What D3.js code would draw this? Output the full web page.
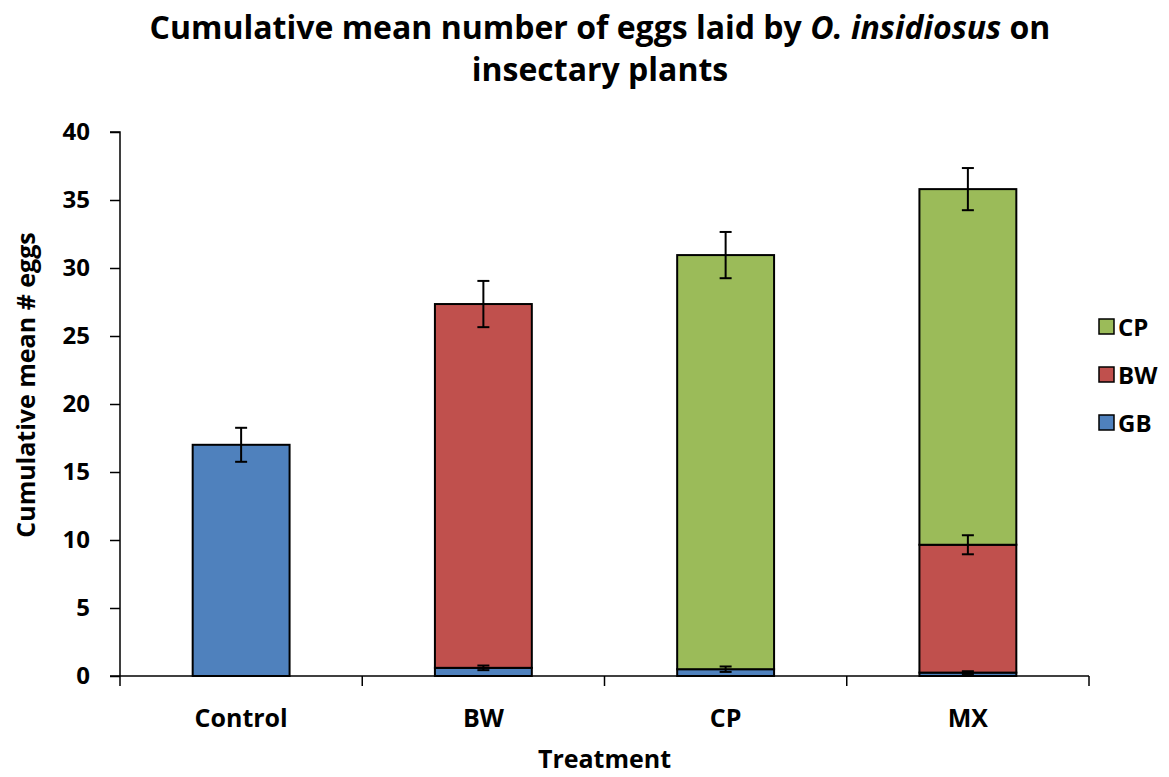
<!DOCTYPE html>
<html>
<head>
<meta charset="utf-8">
<script src="https://cdn.jsdelivr.net/npm/d3@7"></script>
<style>
  html, body { margin: 0; padding: 0; background: #fff; }
  svg { display: block; }
  text { font-family: "Open Sans", "Liberation Sans", sans-serif; font-weight: bold; fill: #000; }
</style>
</head>
<body>
<svg id="chart" width="1169" height="777"></svg>
<script>
// Treatments along the x axis
const treatments = ["Control", "BW", "CP", "MX"];
// Plant species stacked in each bar (bottom to top)
const species = ["GB", "BW", "CP"];
const speciesColors = ["#4F81BD", "#C0504D", "#9BBB59"];
// Mean eggs per species, per treatment
const gbMeans = [17.0, 0.6, 0.5, 0.25];
const bwMeans = [0, 26.75, 0, 9.4];
const cpMeans = [0, 0, 30.45, 26.15];
// Standard errors per species, per treatment (null = no segment)
const gbErr = [1.25, 0.17, 0.2, 0.1];
const bwErr = [null, 1.7, null, 0.7];
const cpErr = [null, null, 1.7, 1.55];
const yTicks = [0, 5, 10, 15, 20, 25, 30, 35, 40];

const svg = d3.select("#chart");
const plotLeft = 120, plotRight = 1089;
const plotTop = 132, plotBottom = 676;

const x = d3.scaleBand().domain(treatments).range([plotLeft, plotRight]).paddingInner(0.6).paddingOuter(0.3);
const xBoundaries = d3.scaleBand().domain(treatments).range([plotLeft, plotRight]).padding(0);
const y = d3.scaleLinear().domain([0, 40]).range([plotBottom, plotTop]);

const table = treatments.map((t, i) => ({ treatment: t, GB: gbMeans[i], BW: bwMeans[i], CP: cpMeans[i] }));
const errs = { GB: gbErr, BW: bwErr, CP: cpErr };
const stacked = d3.stack().keys(species)(table);

// Bars
const layers = svg.append("g").selectAll("g").data(stacked).join("g")
  .attr("fill", (d, i) => speciesColors[i]);
layers.selectAll("rect")
  .data(d => d.map((v, i) => ({ v, i })).filter(o => o.v[1] - o.v[0] > 0))
  .join("rect")
  .attr("x", o => x(treatments[o.i]))
  .attr("width", x.bandwidth())
  .attr("y", o => y(o.v[1]))
  .attr("height", o => y(o.v[0]) - y(o.v[1]))
  .attr("stroke", "#000")
  .attr("stroke-width", 2);

// Error bars at the top of each segment
const errG = svg.append("g").attr("stroke", "#000").attr("stroke-width", 2);
stacked.forEach(layer => {
  const key = layer.key;
  layer.forEach((v, i) => {
    const e = errs[key][i];
    if (e == null || v[1] - v[0] <= 0) return;
    const cx = x(treatments[i]) + x.bandwidth() / 2;
    const top = y(v[1] + e), bot = y(v[1] - e);
    const cap = 6;
    errG.append("line").attr("x1", cx).attr("x2", cx).attr("y1", top).attr("y2", bot);
    errG.append("line").attr("x1", cx - cap).attr("x2", cx + cap).attr("y1", top).attr("y2", top);
    errG.append("line").attr("x1", cx - cap).attr("x2", cx + cap).attr("y1", bot).attr("y2", bot);
  });
});

// Y axis
const yAxis = d3.axisLeft(y).tickValues(yTicks).tickSize(10).tickPadding(20);
const gy = svg.append("g").attr("transform", `translate(${plotLeft},0)`).call(yAxis);
gy.select(".domain").attr("stroke", "#000").attr("stroke-width", 1.5).attr("d", `M-10,${plotTop}H0V${plotBottom}`);
gy.selectAll(".tick line").attr("stroke", "#000").attr("stroke-width", 1.5);
gy.selectAll(".tick text").style("font-size", "24px").style("font-family", "'Open Sans', sans-serif").style("font-weight", "bold").attr("fill", "#000");

// X axis: line along zero with ticks at category boundaries
const gx = svg.append("g");
gx.append("line").attr("x1", plotLeft - 10).attr("x2", plotRight).attr("y1", plotBottom).attr("y2", plotBottom)
  .attr("stroke", "#000").attr("stroke-width", 1.5);
const bounds = treatments.map(t => xBoundaries(t)).concat([plotRight]);
gx.selectAll("line.tk").data(bounds).join("line").attr("class", "tk")
  .attr("x1", d => d).attr("x2", d => d).attr("y1", plotBottom).attr("y2", plotBottom + 10)
  .attr("stroke", "#000").attr("stroke-width", 1.5);
gx.selectAll("text").data(treatments).join("text")
  .attr("x", d => x(d) + x.bandwidth() / 2)
  .attr("y", 727)
  .attr("text-anchor", "middle")
  .style("font-size", "25px")
  .text(d => d);

// Axis titles
svg.append("text").attr("x", (plotLeft + plotRight) / 2).attr("y", 768).attr("text-anchor", "middle")
  .style("font-size", "25px").text("Treatment");
svg.append("text").attr("transform", `translate(35,${(plotTop + plotBottom) / 2 - 19}) rotate(-90)`)
  .attr("text-anchor", "middle").style("font-size", "25px").text("Cumulative mean # eggs");

// Title
const title = svg.append("text").attr("x", 600).attr("y", 39).attr("text-anchor", "middle").style("font-size", "32px");
title.append("tspan").text("Cumulative mean number of eggs laid by ");
title.append("tspan").style("font-style", "italic").text("O. insidiosus");
title.append("tspan").text(" on");
svg.append("text").attr("x", 600).attr("y", 81).attr("text-anchor", "middle").style("font-size", "32px").text("insectary plants");

// Legend (top to bottom: CP, BW, GB)
const legendItems = species.map((s, i) => ({ s, c: speciesColors[i] })).reverse();
const lg = svg.append("g").attr("transform", "translate(1099,319)");
const li = lg.selectAll("g").data(legendItems).join("g").attr("transform", (d, i) => `translate(0,${i * 48})`);
li.append("rect").attr("width", 15).attr("height", 15).attr("fill", d => d.c).attr("stroke", "#000").attr("stroke-width", 1.5);
li.append("text").attr("x", 19).attr("y", 16.5).style("font-size", "24px").text(d => d.s);
</script>
</body>
</html>
